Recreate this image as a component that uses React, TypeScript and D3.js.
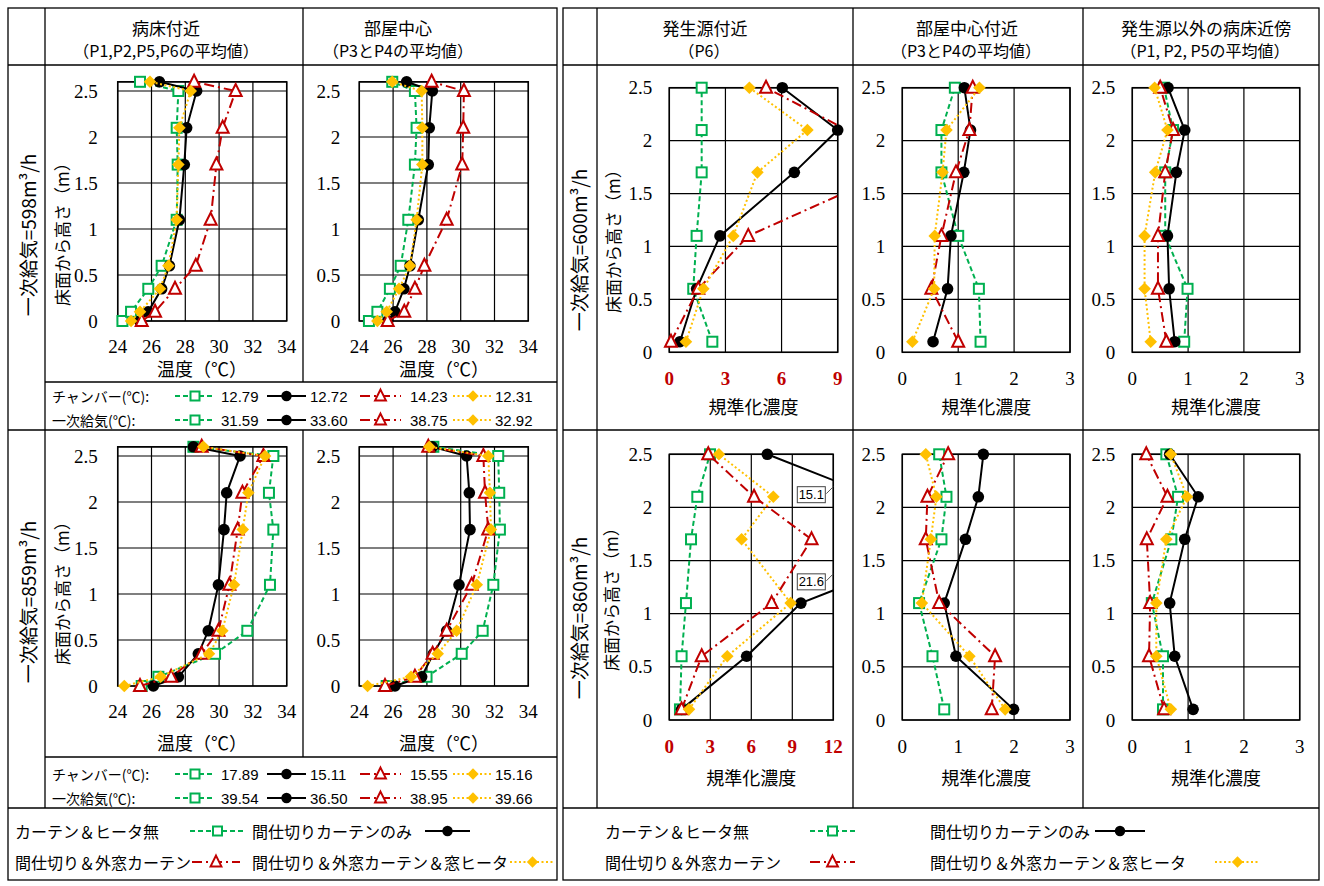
import React from "react";
import * as d3 from "d3";

// ---------- data ----------
const SERIES_NAMES = [
  "カーテン＆ヒータ無",
  "間仕切りカーテンのみ",
  "間仕切り＆外窓カーテン",
  "間仕切り＆外窓カーテン＆窓ヒータ",
];
const TEMP_HEIGHTS = [0, 0.1, 0.35, 0.6, 1.1, 1.7, 2.1, 2.5, 2.6];
const CONC_HEIGHTS = [0.1, 0.6, 1.1, 1.7, 2.1, 2.5];
const HEIGHT_TICKS = [0, 0.5, 1, 1.5, 2, 2.5];
const TEMP_TICKS = [24, 26, 28, 30, 32, 34];
const CONC_TICKS_SRC_600 = [0, 3, 6, 9];
const CONC_TICKS_SRC_860 = [0, 3, 6, 9, 12];
const CONC_TICKS = [0, 1, 2, 3];

// temperature, supply 598 m3/h
const tempBed598 = [
  [24.28, 24.79, 25.81, 26.6, 27.49, 27.55, 27.49, 27.59, 25.32],
  [25.3, 25.8, 26.6, 27.06, 27.65, 27.94, 28.08, 28.67, 26.47],
  [25.42, 26.21, 27.39, 28.62, 29.5, 29.84, 30.21, 30.98, 28.52],
  [24.79, 25.32, 26.5, 27.0, 27.49, 27.59, 27.65, 28.32, 25.91],
];
const tempCenter598 = [
  [24.57, 25.07, 25.81, 26.45, 26.9, 27.29, 27.39, 27.29, 25.95],
  [25.68, 26.11, 26.64, 27.0, 27.49, 28.08, 28.14, 28.32, 26.8],
  [25.68, 26.66, 27.29, 27.85, 29.17, 30.09, 30.15, 30.19, 28.28],
  [25.07, 25.62, 26.35, 27.0, 27.39, 27.73, 27.73, 27.69, 25.95],
];
// temperature, supply 859 m3/h
const tempBed859 = [
  [25.42, 26.41, 29.76, 31.67, 33.01, 33.21, 32.95, 33.21, 28.48],
  [26.11, 27.59, 28.77, 29.36, 29.96, 30.29, 30.45, 31.24, 28.48],
  [25.32, 27.16, 28.97, 29.96, 30.61, 31.1, 31.38, 32.62, 28.97],
  [24.39, 26.54, 29.4, 30.19, 30.88, 31.4, 31.73, 32.72, 29.07],
];
const tempCenter859 = [
  [25.62, 27.98, 30.06, 31.3, 31.93, 32.32, 32.28, 32.22, 28.38],
  [26.11, 27.69, 28.38, 29.17, 29.9, 30.55, 30.51, 30.35, 28.32],
  [25.52, 27.29, 28.34, 29.17, 30.65, 31.63, 31.44, 31.34, 28.08],
  [24.49, 27.06, 28.64, 29.76, 30.95, 31.79, 31.73, 31.63, 28.14],
];

const CHAMBER_598 = [12.79, 12.72, 14.23, 12.31];
const SUPPLY_598 = [31.59, 33.6, 38.75, 32.92];
const CHAMBER_859 = [17.89, 15.11, 15.55, 15.16];
const SUPPLY_859 = [39.54, 36.5, 38.95, 39.66];

// normalized concentration, supply 600 m3/h
const concSrc600 = [
  [2.3, 1.28, 1.46, 1.73, 1.73, 1.73],
  [0.57, 1.46, 2.71, 6.68, 9.0, 6.04],
  [0.09, 1.55, 4.22, 11.8, 9.5, 5.17],
  [0.89, 1.82, 3.42, 4.71, 7.38, 4.28],
];
const concCenter600 = [
  [1.4, 1.37, 1.0, 0.7, 0.7, 0.94],
  [0.55, 0.81, 0.87, 1.1, 1.22, 1.11],
  [1.0, 0.52, 0.7, 0.96, 1.2, 1.26],
  [0.18, 0.57, 0.58, 0.72, 0.79, 1.38],
];
const concBed600 = [
  [0.93, 0.99, 0.59, 0.59, 0.73, 0.57],
  [0.76, 0.66, 0.63, 0.79, 0.94, 0.64],
  [0.61, 0.46, 0.46, 0.59, 0.73, 0.5],
  [0.33, 0.22, 0.22, 0.41, 0.63, 0.4],
];
// normalized concentration, supply 860 m3/h
const concSrc860 = [
  [0.78, 0.9, 1.22, 1.59, 2.05, 2.98],
  [0.9, 5.66, 9.63, 21.6, 15.1, 7.17],
  [0.9, 2.37, 7.49, 10.41, 6.2, 2.85],
  [1.44, 4.24, 8.88, 5.29, 7.61, 3.63],
];
const concCenter860 = [
  [0.75, 0.54, 0.3, 0.7, 0.79, 0.66],
  [1.99, 0.96, 0.75, 1.13, 1.36, 1.45],
  [1.6, 1.66, 0.66, 0.42, 0.45, 0.82],
  [1.84, 1.2, 0.35, 0.51, 0.61, 0.42],
];
const concBed860 = [
  [0.55, 0.55, 0.35, 0.7, 0.82, 0.61],
  [1.09, 0.76, 0.67, 0.94, 1.18, 0.67],
  [0.57, 0.3, 0.32, 0.26, 0.63, 0.25],
  [0.69, 0.43, 0.43, 0.61, 0.98, 0.69],
];

// ---------- styles ----------
const JP = "'Noto Sans CJK JP', 'Noto Sans', sans-serif";
const SERIF = "'Liberation Serif', 'DejaVu Serif', serif";
const SANS = "'Liberation Sans', Arial, sans-serif";
const STYLES = [
  { color: "#00B050", dash: "5,3", marker: "square" },
  { color: "#000000", dash: undefined, marker: "circle" },
  { color: "#C00000", dash: "10,4,2,4", marker: "triangle" },
  { color: "#FFC000", dash: "2,2.5", marker: "diamond" },
];

function Marker({ type, x, y, s = 1 }: { type: string; x: number; y: number; s?: number }) {
  if (type === "square")
    return <rect x={x - 5 * s} y={y - 5 * s} width={10 * s} height={10 * s} fill="#fff" stroke="#00B050" strokeWidth={2} />;
  if (type === "circle") return <circle cx={x} cy={y} r={5.8 * s} fill="#000" />;
  if (type === "triangle") {
    const h = 6 * s;
    return (
      <path
        d={`M${x},${y - h - 1} L${x + h},${y + h - 1} L${x - h},${y + h - 1} Z`}
        fill="#fff"
        stroke="#C00000"
        strokeWidth={2}
        strokeLinejoin="miter"
      />
    );
  }
  const r = 6.3 * s;
  return <path d={`M${x},${y - r} L${x + r},${y} L${x},${y + r} L${x - r},${y} Z`} fill="#FFC000" />;
}

type PanelProps = {
  id: string;
  left: number;
  right: number;
  top: number;
  bottom: number;
  xTicks: number[];
  yMax: number;
  heights: number[];
  series: number[][];
  yLabelGap: number;
  xLabelGap: number;
  tickRed?: boolean;
  offLabels?: { at: number }[];
};

function Panel(p: PanelProps) {
  const x = d3.scaleLinear().domain([p.xTicks[0], p.xTicks[p.xTicks.length - 1]]).range([p.left, p.right]);
  const y = d3.scaleLinear().domain([0, p.yMax]).range([p.bottom, p.top]);
  const line = d3
    .line<[number, number]>()
    .x((d) => x(d[0]))
    .y((d) => y(d[1]));
  const xMax = p.xTicks[p.xTicks.length - 1];
  const hLines = [...HEIGHT_TICKS, p.yMax];
  const offPoints: { v: number; h: number }[] = [];
  p.series.forEach((s) =>
    s.forEach((v, i) => {
      if (v > xMax) offPoints.push({ v, h: p.heights[i] });
    })
  );
  return (
    <g>
      <defs>
        <clipPath id={`clip-${p.id}`}>
          <rect x={p.left} y={p.top - 8} width={p.right - p.left} height={p.bottom - p.top + 16} />
        </clipPath>
      </defs>
      <rect x={p.left} y={p.top} width={p.right - p.left} height={p.bottom - p.top} fill="#fff" />
      {hLines.map((t, i) => (
        <line key={"h" + i} x1={p.left} x2={p.right} y1={y(t)} y2={y(t)} stroke="#000" strokeWidth={1.2} />
      ))}
      {p.xTicks.map((t, i) => (
        <line key={"v" + i} x1={x(t)} x2={x(t)} y1={p.top} y2={p.bottom} stroke="#000" strokeWidth={1.2} />
      ))}
      <rect x={p.left} y={p.top} width={p.right - p.left} height={p.bottom - p.top} fill="none" stroke="#000" strokeWidth={1.5} />
      {HEIGHT_TICKS.map((t, i) => (
        <text
          key={"yl" + i}
          x={p.left - p.yLabelGap}
          y={y(t)}
          textAnchor="end"
          dominantBaseline="central"
          fontFamily={SERIF}
          fontSize={19}
        >
          {t}
        </text>
      ))}
      {p.xTicks.map((t, i) => (
        <text
          key={"xl" + i}
          x={x(t)}
          y={p.bottom + p.xLabelGap}
          textAnchor="middle"
          dominantBaseline="central"
          fontFamily={SERIF}
          fontSize={19}
          fontWeight={p.tickRed ? "bold" : "normal"}
          fill={p.tickRed ? "#C00000" : "#000"}
        >
          {t}
        </text>
      ))}
      {p.series.map((s, si) => {
        const st = STYLES[si];
        const pts: [number, number][] = s.map((v, i) => [v, p.heights[i]]);
        return (
          <g key={"s" + si}>
            <path
              d={line(pts) || ""}
              fill="none"
              stroke={st.color}
              strokeWidth={2}
              strokeDasharray={st.dash}
              clipPath={`url(#clip-${p.id})`}
            />
            {pts
              .filter((d) => d[0] <= xMax + 1e-9)
              .map((d, i) => (
                <Marker key={i} type={st.marker} x={x(d[0])} y={y(d[1])} />
              ))}
          </g>
        );
      })}
      {p.offLabels &&
        offPoints.map((o, i) => {
          const lab = p.offLabels![i];
          if (!lab) return null;
          const cy = y(lab.at);
          const bx = p.right - 36;
          return (
            <g key={"ol" + i}>
              <line x1={bx + 29} y1={cy - 1} x2={p.right} y2={cy - 8} stroke="#555" strokeWidth={1} />
              <rect x={bx} y={cy - 8} width={28} height={16} fill="#fff" stroke="#444" strokeWidth={1} />
              <text x={bx + 14} y={cy} textAnchor="middle" dominantBaseline="central" fontFamily={SANS} fontSize={13}>
                {o.v.toFixed(1)}
              </text>
            </g>
          );
        })}
    </g>
  );
}

function LegendSample({ si, x1, x2, y }: { si: number; x1: number; x2: number; y: number }) {
  const st = STYLES[si];
  return (
    <g>
      <line x1={x1} x2={x2} y1={y} y2={y} stroke={st.color} strokeWidth={2} strokeDasharray={st.dash} />
      <Marker type={st.marker} x={(x1 + x2) / 2} y={y} s={0.9} />
    </g>
  );
}

function ValueLegend({ y, label, values }: { y: number; label: string; values: number[] }) {
  const samples = [
    [175, 215, 221],
    [267, 306, 310],
    [360, 401, 410],
    [453, 493, 495],
  ];
  return (
    <g>
      <text x={52} y={y} dominantBaseline="central" fontFamily={JP} fontSize={14}>
        {label}
      </text>
      {values.map((v, i) => (
        <g key={i}>
          <LegendSample si={i} x1={samples[i][0]} x2={samples[i][1]} y={y} />
          <text x={samples[i][2]} y={y} dominantBaseline="central" fontFamily={SANS} fontSize={15}>
            {v.toFixed(2)}
          </text>
        </g>
      ))}
    </g>
  );
}

function VText({ x, y, children, size = 18 }: { x: number; y: number; children: React.ReactNode; size?: number }) {
  return (
    <text
      transform={`translate(${x},${y}) rotate(-90)`}
      textAnchor="middle"
      dominantBaseline="central"
      fontFamily={JP}
      fontSize={size}
    >
      {children}
    </text>
  );
}

function HText({ x, y, children, size = 17 }: { x: number; y: number; children: React.ReactNode; size?: number }) {
  return (
    <text x={x} y={y} textAnchor="middle" dominantBaseline="central" fontFamily={JP} fontSize={size}>
      {children}
    </text>
  );
}

export default function App() {
  const L = { a: 117.7, b: 286.7, c: 359.3, d: 528.3 };
  const R = [
    [669.3, 837.7],
    [902.3, 1070],
    [1132.3, 1299.7],
  ];
  const R2 = [
    [669.3, 833.3],
    [902.3, 1070],
    [1132.3, 1299.7],
  ];
  const lw = 1.3;
  const stroke = "#000";
  return (
    <svg
      width={1324}
      height={886}
      style={{ position: "absolute", left: 0, top: 0, background: "#fff" }}
      xmlns="http://www.w3.org/2000/svg"
    >
      <rect x={0} y={0} width={1324} height={886} fill="#fff" />
      {/* ---- table lines: left block ---- */}
      <g stroke={stroke} strokeWidth={lw} fill="none">
        <rect x={8} y={8} width={549} height={872} />
        <line x1={45} x2={45} y1={8} y2={808} />
        <line x1={303} x2={303} y1={8} y2={382} />
        <line x1={303} x2={303} y1={430} y2={757} />
        <line x1={8} x2={557} y1={65} y2={65} />
        <line x1={45} x2={557} y1={382} y2={382} />
        <line x1={8} x2={557} y1={430} y2={430} />
        <line x1={45} x2={557} y1={757} y2={757} />
        <line x1={8} x2={557} y1={808} y2={808} />
        {/* right block */}
        <rect x={563} y={8} width={756} height={872} />
        <line x1={597} x2={597} y1={8} y2={808} />
        <line x1={853} x2={853} y1={8} y2={808} />
        <line x1={1083} x2={1083} y1={8} y2={808} />
        <line x1={563} x2={1319} y1={65} y2={65} />
        <line x1={563} x2={1319} y1={430} y2={430} />
        <line x1={563} x2={1319} y1={808} y2={808} />
      </g>

      {/* ---- headers ---- */}
      <HText x={166} y={27}>病床付近</HText>
      <HText x={166} y={50} size={16}>（P1,P2,P5,P6の平均値）</HText>
      <HText x={398} y={27}>部屋中心</HText>
      <HText x={398} y={50} size={16}>（P3とP4の平均値）</HText>
      <HText x={705} y={27}>発生源付近</HText>
      <HText x={704} y={50} size={16}>（P6）</HText>
      <HText x={967} y={27}>部屋中心付近</HText>
      <HText x={966} y={50} size={16}>（P3とP4の平均値）</HText>
      <HText x={1206} y={27}>発生源以外の病床近傍</HText>
      <HText x={1205} y={50} size={16}>（P1, P2, P5の平均値）</HText>

      {/* ---- row labels ---- */}
      <VText x={27} y={235} size={19}>一次給気=598m³/h</VText>
      <VText x={27} y={602} size={19}>一次給気=859m³/h</VText>
      <VText x={578} y={250} size={19}>一次給気=600m³/h</VText>
      <VText x={578} y={618} size={19}>一次給気=860m³/h</VText>

      {/* ---- axis titles ---- */}
      <VText x={61} y={230} size={17}>床面から高さ（m）</VText>
      <VText x={61} y={589} size={17}>床面から高さ（m）</VText>
      <VText x={612} y={237} size={17}>床面から高さ（m）</VText>
      <VText x={610} y={595} size={17}>床面から高さ（m）</VText>
      <HText x={202} y={368} size={18}>温度（℃）</HText>
      <HText x={444} y={368} size={18}>温度（℃）</HText>
      <HText x={202} y={742} size={18}>温度（℃）</HText>
      <HText x={444} y={742} size={18}>温度（℃）</HText>
      {R.map((r, i) => (
        <HText key={"rt" + i} x={(r[0] + r[1]) / 2} y={406} size={18}>
          規準化濃度
        </HText>
      ))}
      {R2.map((r, i) => (
        <HText key={"rb" + i} x={(r[0] + r[1]) / 2} y={777} size={18}>
          規準化濃度
        </HText>
      ))}

      {/* ---- temperature panels ---- */}
      <Panel id="t1" left={L.a} right={L.b} top={81.8} bottom={321} xTicks={TEMP_TICKS} yMax={2.6}
        heights={TEMP_HEIGHTS} series={tempBed598} yLabelGap={20} xLabelGap={25} />
      <Panel id="t2" left={L.c} right={L.d} top={81.8} bottom={321} xTicks={TEMP_TICKS} yMax={2.6}
        heights={TEMP_HEIGHTS} series={tempCenter598} yLabelGap={19} xLabelGap={25} />
      <Panel id="t3" left={L.a} right={L.b} top={446.8} bottom={686} xTicks={TEMP_TICKS} yMax={2.6}
        heights={TEMP_HEIGHTS} series={tempBed859} yLabelGap={20} xLabelGap={25} />
      <Panel id="t4" left={L.c} right={L.d} top={446.8} bottom={686} xTicks={TEMP_TICKS} yMax={2.6}
        heights={TEMP_HEIGHTS} series={tempCenter859} yLabelGap={19} xLabelGap={25} />

      {/* ---- concentration panels ---- */}
      <Panel id="c1" left={R[0][0]} right={R[0][1]} top={87.7} bottom={352.3} xTicks={CONC_TICKS_SRC_600} yMax={2.5}
        heights={CONC_HEIGHTS} series={concSrc600} yLabelGap={17} xLabelGap={26} tickRed />
      <Panel id="c2" left={R[1][0]} right={R[1][1]} top={87.7} bottom={352.3} xTicks={CONC_TICKS} yMax={2.5}
        heights={CONC_HEIGHTS} series={concCenter600} yLabelGap={17} xLabelGap={26} />
      <Panel id="c3" left={R[2][0]} right={R[2][1]} top={87.7} bottom={352.3} xTicks={CONC_TICKS} yMax={2.5}
        heights={CONC_HEIGHTS} series={concBed600} yLabelGap={17} xLabelGap={26} />
      <Panel id="c4" left={R2[0][0]} right={R2[0][1]} top={454.3} bottom={720} xTicks={CONC_TICKS_SRC_860} yMax={2.5}
        heights={CONC_HEIGHTS} series={concSrc860} yLabelGap={17} xLabelGap={26} tickRed
        offLabels={[{ at: 1.3 }, { at: 2.12 }]} />
      <Panel id="c5" left={R2[1][0]} right={R2[1][1]} top={454.3} bottom={720} xTicks={CONC_TICKS} yMax={2.5}
        heights={CONC_HEIGHTS} series={concCenter860} yLabelGap={17} xLabelGap={26} />
      <Panel id="c6" left={R2[2][0]} right={R2[2][1]} top={454.3} bottom={720} xTicks={CONC_TICKS} yMax={2.5}
        heights={CONC_HEIGHTS} series={concBed860} yLabelGap={17} xLabelGap={26} />

      {/* ---- value legends ---- */}
      <ValueLegend y={396} label="チャンバー(℃):" values={CHAMBER_598} />
      <ValueLegend y={420} label="一次給気(℃):" values={SUPPLY_598} />
      <ValueLegend y={774} label="チャンバー(℃):" values={CHAMBER_859} />
      <ValueLegend y={798} label="一次給気(℃):" values={SUPPLY_859} />

      {/* ---- bottom legends ---- */}
      <g fontFamily={JP} fontSize={16}>
        <text x={15} y={831} dominantBaseline="central">{SERIES_NAMES[0]}</text>
        <LegendSample si={0} x1={190} x2={245} y={831} />
        <text x={252} y={831} dominantBaseline="central">{SERIES_NAMES[1]}</text>
        <LegendSample si={1} x1={425} x2={470} y={831} />
        <text x={15} y={862} dominantBaseline="central">{SERIES_NAMES[2]}</text>
        <LegendSample si={2} x1={192} x2={240} y={862} />
        <text x={252} y={862} dominantBaseline="central">{SERIES_NAMES[3]}</text>
        <LegendSample si={3} x1={510} x2={555} y={862} />

        <text x={605} y={831} dominantBaseline="central">{SERIES_NAMES[0]}</text>
        <LegendSample si={0} x1={810} x2={855} y={831} />
        <text x={930} y={831} dominantBaseline="central">{SERIES_NAMES[1]}</text>
        <LegendSample si={1} x1={1095} x2={1145} y={831} />
        <text x={605} y={862} dominantBaseline="central">{SERIES_NAMES[2]}</text>
        <LegendSample si={2} x1={810} x2={855} y={862} />
        <text x={930} y={862} dominantBaseline="central">{SERIES_NAMES[3]}</text>
        <LegendSample si={3} x1={1215} x2={1260} y={862} />
      </g>
    </svg>
  );
}
